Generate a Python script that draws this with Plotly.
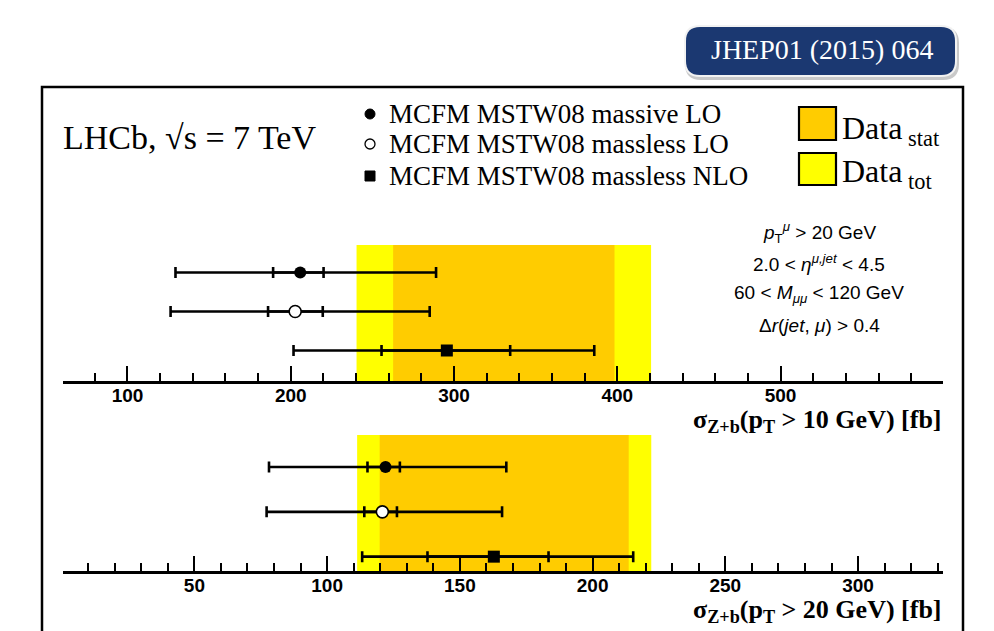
import plotly.graph_objects as go

# ---------------- data ----------------
models = ["MCFM MSTW08 massive LO", "MCFM MSTW08 massless LO", "MCFM MSTW08 massless NLO"]

# sigma(Z+b), jet pT > 10 GeV  [fb]
pt10_central = [205.8, 202.7, 295.6]
pt10_inner_lo = [189.2, 186.1, 255.6]
pt10_inner_hi = [220.1, 219.6, 334.4]
pt10_outer_lo = [129.4, 126.4, 201.7]
pt10_outer_hi = [289.0, 285.1, 385.9]
pt10_data = 330.5
pt10_data_stat = 67.8
pt10_data_tot = 90.2

# sigma(Z+b), jet pT > 20 GeV  [fb]
pt20_central = [122.0, 120.8, 162.8]
pt20_inner_lo = [115.2, 114.0, 137.8]
pt20_inner_hi = [127.4, 126.3, 183.4]
pt20_outer_lo = [78.1, 77.2, 113.2]
pt20_outer_hi = [167.5, 165.9, 215.3]
pt20_data = 166.7
pt20_data_stat = 46.9
pt20_data_tot = 55.4

cut_lines = [
    "<i>p</i><sub>T</sub><sup><i>μ</i></sup> > 20 GeV",
    "2.0 < <i>η</i><sup><i>μ,jet</i></sup> < 4.5",
    "60 < <i>M</i><sub><i>μμ</i></sub> < 120 GeV",
    "Δ<i>r</i>(<i>jet</i>, <i>μ</i>) > 0.4",
]

# ---------------- helpers ----------------
W, H = 994, 631
def px(x):
    return x / W
def py(y):
    return 1 - y / H

ORANGE = "#FFCC00"
YELLOW = "#FFFF00"
SERIF = "Liberation Serif"
SANS = "Liberation Sans"

marker_styles = [
    dict(symbol="circle", size=12, color="black"),
    dict(symbol="circle", size=12, color="white", line=dict(color="black", width=1.6)),
    dict(symbol="square", size=12, color="black"),
]

fig = go.Figure()

def add_panel(central, ilo, ihi, olo, ohi, xa, ya):
    for i, m in enumerate(models):
        # inner (scale) error bars
        fig.add_trace(go.Scatter(
            x=[central[i]], y=[m], mode="markers",
            marker=dict(size=1, opacity=0),
            error_x=dict(type="data", symmetric=False,
                         array=[ihi[i] - central[i]], arrayminus=[central[i] - ilo[i]],
                         thickness=2.6, width=5.5, color="black"),
            xaxis=xa, yaxis=ya, hoverinfo="skip", showlegend=False))
        # outer (total) error bars + marker
        fig.add_trace(go.Scatter(
            x=[central[i]], y=[m], mode="markers", name=m,
            marker=marker_styles[i],
            error_x=dict(type="data", symmetric=False,
                         array=[ohi[i] - central[i]], arrayminus=[central[i] - olo[i]],
                         thickness=2.6, width=5.5, color="black"),
            xaxis=xa, yaxis=ya, showlegend=False))

add_panel(pt10_central, pt10_inner_lo, pt10_inner_hi, pt10_outer_lo, pt10_outer_hi, "x", "y")
add_panel(pt20_central, pt20_inner_lo, pt20_inner_hi, pt20_outer_lo, pt20_outer_hi, "x2", "y2")

shapes = []
# data bands
for (c, s, t, xr, yr) in [(pt10_data, pt10_data_stat, pt10_data_tot, "x", "y domain"),
                          (pt20_data, pt20_data_stat, pt20_data_tot, "x2", "y2 domain")]:
    shapes.append(dict(type="rect", xref=xr, yref=yr, x0=c - t, x1=c + t, y0=0, y1=1,
                       fillcolor=YELLOW, line=dict(width=0), layer="below"))
    shapes.append(dict(type="rect", xref=xr, yref=yr, x0=c - s, x1=c + s, y0=0, y1=1,
                       fillcolor=ORANGE, line=dict(width=0), layer="below"))

# frame
shapes.append(dict(type="rect", xref="paper", yref="paper",
                   x0=px(42), x1=px(963), y0=py(660), y1=py(87),
                   line=dict(color="black", width=2.5), fillcolor="rgba(0,0,0,0)"))

def rounded(x0, y0, x1, y1, r):
    def P(x, y):
        return f"{px(x):.5f},{py(y):.5f}"
    return (f"M{P(x0 + r, y0)} L{P(x1 - r, y0)} Q{P(x1, y0)} {P(x1, y0 + r)} "
            f"L{P(x1, y1 - r)} Q{P(x1, y1)} {P(x1 - r, y1)} L{P(x0 + r, y1)} "
            f"Q{P(x0, y1)} {P(x0, y1 - r)} L{P(x0, y0 + r)} Q{P(x0, y0)} {P(x0 + r, y0)} Z")

# journal badge with shadow
shapes.append(dict(type="path", xref="paper", yref="paper", path=rounded(685, 27, 959, 80, 16),
                   fillcolor="#c9c9c9", line=dict(width=0)))
shapes.append(dict(type="path", xref="paper", yref="paper", path=rounded(684, 25, 957, 77, 16),
                   fillcolor="#f2f2f2", line=dict(width=0)))
shapes.append(dict(type="path", xref="paper", yref="paper", path=rounded(686, 27, 955, 75, 14),
                   fillcolor="#1b3871", line=dict(width=0)))

# legend symbols
shapes.append(dict(type="circle", xref="paper", yref="paper",
                   x0=px(365), x1=px(375), y0=py(119), y1=py(109),
                   fillcolor="black", line=dict(color="black", width=1)))
shapes.append(dict(type="circle", xref="paper", yref="paper",
                   x0=px(365), x1=px(375), y0=py(149), y1=py(139),
                   fillcolor="white", line=dict(color="black", width=1.3)))
shapes.append(dict(type="rect", xref="paper", yref="paper",
                   x0=px(365), x1=px(375), y0=py(181), y1=py(171),
                   fillcolor="black", line=dict(color="black", width=1)))
shapes.append(dict(type="rect", xref="paper", yref="paper",
                   x0=px(799), x1=px(836), y0=py(140), y1=py(107),
                   fillcolor=ORANGE, line=dict(color="black", width=2.2)))
shapes.append(dict(type="rect", xref="paper", yref="paper",
                   x0=px(799), x1=px(836), y0=py(185), y1=py(153),
                   fillcolor=YELLOW, line=dict(color="black", width=2.2)))

ann = []
ann.append(dict(text="JHEP01 (2015) 064", x=px(822), y=py(50), xref="paper", yref="paper",
                showarrow=False, font=dict(family=SERIF, size=28, color="white"),
                xanchor="center", yanchor="middle"))
ann.append(dict(text="LHCb, √s = 7 TeV", x=px(61), y=py(137), xref="paper", yref="paper",
                showarrow=False, font=dict(family=SERIF, size=34, color="black"),
                xanchor="left", yanchor="middle"))
for i, (m, yy) in enumerate(zip(models, [114, 144, 176])):
    ann.append(dict(text=m, x=px(387), y=py(yy), xref="paper", yref="paper",
                    showarrow=False, font=dict(family=SERIF, size=27, color="black"),
                    xanchor="left", yanchor="middle"))
ann.append(dict(text="Data<sub> stat</sub>", x=px(840), y=py(130), xref="paper", yref="paper",
                showarrow=False, font=dict(family=SERIF, size=32, color="black"),
                xanchor="left", yanchor="middle"))
ann.append(dict(text="Data<sub> tot</sub>", x=px(840), y=py(174), xref="paper", yref="paper",
                showarrow=False, font=dict(family=SERIF, size=32, color="black"),
                xanchor="left", yanchor="middle"))
for line, yy in zip(cut_lines, [232, 263, 294, 325]):
    ann.append(dict(text=line, x=px(819), y=py(yy), xref="paper", yref="paper",
                    showarrow=False, font=dict(family=SANS, size=19, color="black"),
                    xanchor="center", yanchor="middle"))
ann.append(dict(text="<b>σ<sub>Z+b</sub>(p<sub>T</sub> > 10 GeV) [fb]</b>", x=px(944), y=py(421),
                xref="paper", yref="paper", showarrow=False,
                font=dict(family=SERIF, size=26, color="black"), xanchor="right", yanchor="middle"))
ann.append(dict(text="<b>σ<sub>Z+b</sub>(p<sub>T</sub> > 20 GeV) [fb]</b>", x=px(944), y=py(611),
                xref="paper", yref="paper", showarrow=False,
                font=dict(family=SERIF, size=26, color="black"), xanchor="right", yanchor="middle"))

def xaxis_cfg(rng, dtick, mdtick, dom_anchor):
    return dict(range=rng, domain=[px(63), px(943)], anchor=dom_anchor,
                showline=True, linewidth=3, linecolor="black", mirror=False,
                ticks="inside", ticklen=15, tickwidth=2, tickcolor="black",
                dtick=dtick, tick0=0, showgrid=False, zeroline=False,
                ticklabelstandoff=-5,
                tickfont=dict(family=SANS, size=19, color="black", weight="bold"),
                minor=dict(dtick=mdtick, tick0=0, ticks="inside", ticklen=8, tickwidth=2,
                           tickcolor="black", showgrid=False))

cat_order = [models[2], models[1], models[0]]

fig.update_layout(
    width=W, height=H, margin=dict(l=0, r=0, t=0, b=0),
    paper_bgcolor="white", plot_bgcolor="rgba(0,0,0,0)",
    showlegend=False,
    xaxis=xaxis_cfg([60.5, 599.5], 100, 20, "y"),
    xaxis2=xaxis_cfg([0.5, 332], 50, 10, "y2"),
    yaxis=dict(domain=[py(381), py(245)], type="category", categoryorder="array",
               categoryarray=cat_order, range=[-0.782, 2.705], visible=False, anchor="x"),
    yaxis2=dict(domain=[py(571), py(435)], type="category", categoryorder="array",
                categoryarray=cat_order, range=[-0.32, 2.714], visible=False, anchor="x2"),
    shapes=shapes, annotations=ann,
)

fig.write_html("out.html")
